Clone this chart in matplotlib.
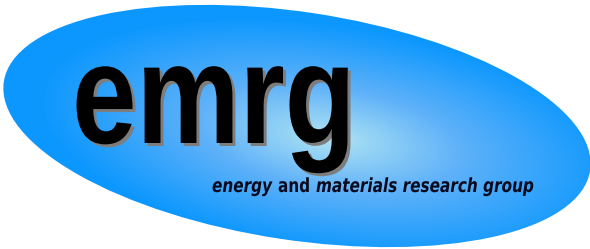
import numpy as np
import matplotlib
matplotlib.use('Agg')
import matplotlib.pyplot as plt
from matplotlib.patches import Ellipse
from matplotlib.colors import LinearSegmentedColormap, to_rgba
from matplotlib.patheffects import AbstractPathEffect
from matplotlib.transforms import Affine2D

title_text = "emrg"
subtitle_parts = ["energy", "and", "materials research group"]
subtitle_styles = ["italic", "normal", "italic"]


class TallText(AbstractPathEffect):
    """Stretch glyphs vertically about baseline y0; optional drop shadow."""
    def __init__(self, sy, y0, shadow=None, shadow_px=(0, 0)):
        super().__init__()
        self.sy = sy
        self.y0 = y0
        self.shadow = None if shadow is None else to_rgba(shadow)
        self.shadow_px = shadow_px

    def draw_path(self, renderer, gc, tpath, affine, rgbFace=None):
        aff = affine + Affine2D().translate(0, -self.y0).scale(1, self.sy).translate(0, self.y0)
        if self.shadow is not None:
            saff = aff + Affine2D().translate(*self.shadow_px)
            renderer.draw_path(gc, tpath, saff, self.shadow)
        renderer.draw_path(gc, tpath, aff, rgbFace)


W, H = 590, 249
fig = plt.figure(figsize=(5.9, 2.49), dpi=100)
ax = fig.add_axes([0, 0, 1, 1])
ax.axis('off')

cx, cy, ew, eh, ang = 297, 126, 593, 228, 8.6
ell = Ellipse((cx, cy), ew, eh, angle=ang, facecolor='none', edgecolor='none')
ax.add_patch(ell)

yy, xx = np.mgrid[0:H, 0:W] + 0.5
gx, gy = 330, 138
th = np.deg2rad(ang)
dx, dy = xx - gx, yy - gy
u = dx * np.cos(th) + dy * np.sin(th)
v = -dx * np.sin(th) + dy * np.cos(th)
d = np.sqrt((u / (ew / 2)) ** 2 + (v / (eh / 2)) ** 2)
cmap = LinearSegmentedColormap.from_list(
    'g', [(0, '#b0e4f3'), (0.45, '#5eb1f9'), (1, '#0b97fe')])
img = ax.imshow(cmap(np.clip(d, 0, 1)), extent=[0, W, H, 0],
                interpolation='bilinear', zorder=1, aspect='auto')
img.set_clip_path(ell)
ax.set_xlim(0, W)
ax.set_ylim(H, 0)


def py(x, y):
    return ax.transData.transform((x, y))[1]


tx, ty = 72, 143
tsize, tsy = 83.5, 1.23
ax.text(tx, ty, title_text, fontsize=tsize, fontweight='bold',
        family=['Liberation Sans', 'DejaVu Sans'], color='black',
        ha='left', va='baseline', zorder=4,
        path_effects=[TallText(tsy, py(tx, ty), shadow='#7d7d7d', shadow_px=(3, -3))])

fig.canvas.draw()
r = fig.canvas.get_renderer()
x = 212
sy0 = 192
ssize, ssy = 11.0, 1.27
gap = 6
for part, st in zip(subtitle_parts, subtitle_styles):
    t = ax.text(x, sy0, part, fontsize=ssize, fontweight='bold', style=st,
                family=['DejaVu Sans'], color='#0a0a1e', ha='left', va='baseline', zorder=4,
                path_effects=[TallText(ssy, py(x, sy0))])
    bb = t.get_window_extent(renderer=r)
    x += bb.width + gap

fig.savefig('out.png', dpi=100)
